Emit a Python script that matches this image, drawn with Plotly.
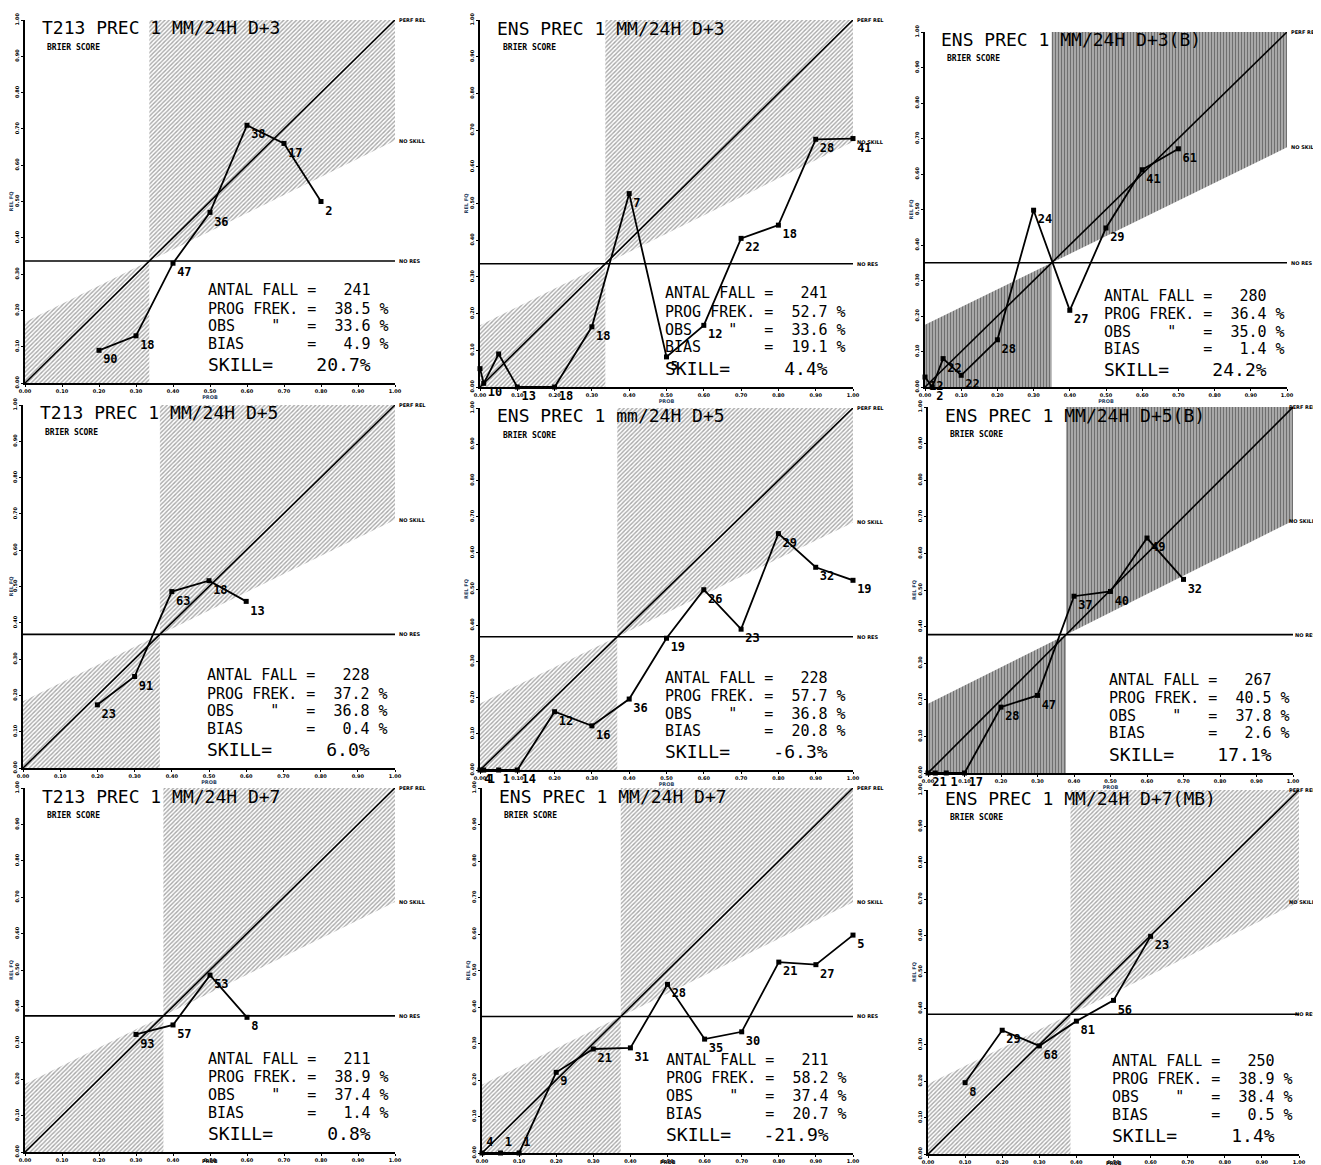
import plotly.graph_objects as go

# ---------------- data ----------------
titles = ["T213 PREC 1 MM/24H D+3", "ENS PREC 1 MM/24H D+3", "ENS PREC 1 MM/24H D+3(B)",
          "T213 PREC 1 MM/24H D+5", "ENS PREC 1 mm/24H D+5", "ENS PREC 1 MM/24H D+5(B)",
          "T213 PREC 1 MM/24H D+7", "ENS PREC 1 MM/24H D+7", "ENS PREC 1 MM/24H D+7(MB)"]

antal_fall = [241, 241, 280, 228, 228, 267, 211, 211, 250]
prog_frek = [38.5, 52.7, 36.4, 37.2, 57.7, 40.5, 38.9, 58.2, 38.9]
obs_frek = [33.6, 33.6, 35.0, 36.8, 36.8, 37.8, 37.4, 37.4, 38.4]
bias = [4.9, 19.1, 1.4, 0.4, 20.8, 2.6, 1.4, 20.7, 0.5]
skill = [20.7, 4.4, 24.2, 6.0, -6.3, 17.1, 0.8, -21.9, 1.4]

p1_prob = [0.2, 0.3, 0.4, 0.5, 0.6, 0.7, 0.8]
p1_rel = [0.09, 0.13, 0.33, 0.47, 0.71, 0.66, 0.50]
p1_n = ["90", "18", "47", "36", "38", "17", "2"]

p2_prob = [0.0, 0.01, 0.05, 0.1, 0.2, 0.3, 0.4, 0.5, 0.6, 0.7, 0.8, 0.9, 1.0]
p2_rel = [0.05, 0.01, 0.09, 0.0, 0.0, 0.164, 0.527, 0.082, 0.168, 0.405, 0.441, 0.675, 0.677]
p2_n = ["", "10", "", "13", "18", "18", "7", "5", "12", "22", "18", "28", "41"]

p3_prob = [0.0, 0.02, 0.05, 0.1, 0.2, 0.3, 0.4, 0.5, 0.6, 0.7]
p3_rel = [0.028, 0.0, 0.08, 0.033, 0.133, 0.498, 0.216, 0.448, 0.612, 0.671]
p3_n = ["12", "2", "22", "22", "28", "24", "27", "29", "41", "61"]

p4_prob = [0.2, 0.3, 0.4, 0.5, 0.6]
p4_rel = [0.174, 0.252, 0.486, 0.516, 0.459]
p4_n = ["23", "91", "63", "18", "13"]

p5_prob = [0.0, 0.01, 0.05, 0.1, 0.2, 0.3, 0.4, 0.5, 0.6, 0.7, 0.8, 0.9, 1.0]
p5_rel = [0.0, 0.0, 0.0, 0.0, 0.161, 0.122, 0.196, 0.364, 0.498, 0.389, 0.653, 0.560, 0.524]
p5_n = ["4", "1", "1", "14", "12", "16", "36", "19", "26", "23", "29", "32", "19"]

p6_prob = [0.0, 0.02, 0.05, 0.1, 0.2, 0.3, 0.4, 0.5, 0.6, 0.7]
p6_rel = [0.0, 0.0, 0.0, 0.0, 0.18, 0.212, 0.483, 0.496, 0.642, 0.529]
p6_n = ["2", "1", "1", "17", "28", "47", "37", "40", "49", "32"]

p7_prob = [0.3, 0.4, 0.5, 0.6]
p7_rel = [0.323, 0.349, 0.486, 0.37]
p7_n = ["93", "57", "53", "8"]

p8_prob = [0.0, 0.05, 0.1, 0.2, 0.3, 0.4, 0.5, 0.6, 0.7, 0.8, 0.9, 1.0]
p8_rel = [0.0, 0.0, 0.0, 0.221, 0.285, 0.288, 0.462, 0.312, 0.332, 0.523, 0.516, 0.597]
p8_n = ["4", "1", "1", "9", "21", "31", "28", "35", "30", "21", "27", "5"]

p9_prob = [0.1, 0.2, 0.3, 0.4, 0.5, 0.6]
p9_rel = [0.196, 0.34, 0.297, 0.365, 0.422, 0.598]
p9_n = ["8", "29", "68", "81", "56", "23"]

probs = [p1_prob, p2_prob, p3_prob, p4_prob, p5_prob, p6_prob, p7_prob, p8_prob, p9_prob]
rels = [p1_rel, p2_rel, p3_rel, p4_rel, p5_rel, p6_rel, p7_rel, p8_rel, p9_rel]
counts = [p1_n, p2_n, p3_n, p4_n, p5_n, p6_n, p7_n, p8_n, p9_n]

tick_vals = [0.0, 0.1, 0.2, 0.3, 0.4, 0.5, 0.6, 0.7, 0.8, 0.9, 1.0]
tick_text = ["0.00", "0.10", "0.20", "0.30", "0.40", "0.50", "0.60", "0.70", "0.80", "0.90", "1.00"]
dense_panels = [2, 5]

# ---------------- layout ----------------
W, H = 1321, 1165
OFF = 8  # page body margin of the browser
domains_px = [(25, 395, 20, 383), (480, 853, 20, 387), (925, 1287, 32, 387),
              (23, 395, 405, 768), (480, 853, 408, 770), (928, 1293, 407, 773),
              (25, 395, 788, 1152), (482, 853, 788, 1153), (928, 1299, 790, 1154)]

MONO = "DejaVu Sans Mono"
NB = "\u00a0"


def nb(s):
    return s.replace(" ", NB)


fig = go.Figure()
annotations = []
layout_axes = {}

for i in range(9):
    ax = "" if i == 0 else str(i + 1)
    xr, yr = "x" + ax, "y" + ax
    o = obs_frek[i] / 100.0
    if i in dense_panels:
        pat = dict(shape="|", size=3, solidity=0.45, fgcolor="#2a2a2a", bgcolor="#b4b4b4")
    else:
        pat = dict(shape="/", size=3, solidity=0.45, fgcolor="#505050", bgcolor="white")
    common = dict(xaxis=xr, yaxis=yr, hoverinfo="skip", showlegend=False)
    # skill regions (between no-skill line and perfect-reliability side)
    fig.add_trace(go.Scatter(x=[o, 1, 1, o, o], y=[o, (1 + o) / 2, 1, 1, o], fill="toself",
                             fillpattern=pat, fillcolor="white", mode="lines",
                             line=dict(width=0), **common))
    fig.add_trace(go.Scatter(x=[0, 0, o, o, 0], y=[0, o / 2, o, 0, 0], fill="toself",
                             fillpattern=pat, fillcolor="white", mode="lines",
                             line=dict(width=0), **common))
    # perfect reliability and no resolution lines
    fig.add_trace(go.Scatter(x=[0, 1], y=[0, 1], mode="lines",
                             line=dict(color="black", width=1.6), **common))
    fig.add_trace(go.Scatter(x=[0, 1], y=[o, o], mode="lines",
                             line=dict(color="black", width=1.6), **common))
    # reliability curve
    tpos = ["bottom right"] * len(probs[i])
    if i >= 6:
        tpos = ["top right" if v == 0 else "bottom right" for v in rels[i]]
    fig.add_trace(go.Scatter(x=probs[i], y=rels[i], mode="lines+markers+text",
                             text=counts[i], textposition=tpos,
                             textfont=dict(family=MONO, size=12, color="black", weight="bold"),
                             marker=dict(symbol="square", size=5, color="black"),
                             line=dict(color="black", width=1.8), cliponaxis=False, **common))

    x0, x1, y0, y1 = domains_px[i]
    axis_common = dict(range=[0, 1], showgrid=False, zeroline=False, showline=True,
                       linecolor="black", linewidth=1.5, ticks="outside", ticklen=2,
                       tickwidth=1, tickcolor="black", tickvals=tick_vals, ticktext=tick_text,
                       tickfont=dict(family="DejaVu Sans", size=5, color="black", weight="bold"),
                       automargin=False, fixedrange=True)
    xtitle = "PROB" if i < 6 else ""
    layout_axes["xaxis" + ax] = dict(domain=[(x0 - OFF) / W, (x1 - OFF) / W], anchor=yr,
                                     title=dict(text=xtitle, standoff=0,
                                                font=dict(family="DejaVu Sans", size=5, weight="bold")),
                                     **axis_common)
    layout_axes["yaxis" + ax] = dict(domain=[1 - (y1 - OFF) / H, 1 - (y0 - OFF) / H], anchor=xr,
                                     tickangle=-90,
                                     title=dict(text="REL FQ", standoff=0,
                                                font=dict(family="DejaVu Sans", size=5, weight="bold")),
                                     **axis_common)

    def ann(x, y, text, size, xanchor="left", bold=False, family=MONO, xshift=0, yshift=0):
        annotations.append(dict(x=x, y=y, xref=xr, yref=yr, text=text, showarrow=False,
                                xanchor=xanchor, yanchor="middle", xshift=xshift, yshift=yshift,
                                font=dict(family=family, size=size, color="black",
                                          weight="bold" if bold else "normal")))

    ann(0.04, 0.978, nb(titles[i]), 18)
    ann(0.055, 0.925, nb("BRIER SCORE"), 8, bold=True)
    room = W - x1
    if room >= 32:
        side = dict(xanchor="left", xshift=2)
    else:
        side = dict(xanchor="right", xshift=room - 3)
    for yy, lab in [(1.0, "PERF REL"), ((1 + o) / 2, "NO SKILL"), (o, "NO RES")]:
        ann(1.0, yy, nb(lab), 5, bold=True, family="DejaVu Sans", **side)
    if i >= 6:
        ann(0.5, 0.0, "PROB", 5, xanchor="center", bold=True, family="DejaVu Sans", yshift=-9)

    lines = ["ANTAL FALL =" + f"{antal_fall[i]:>6d}",
             "PROG FREK. =" + f"{prog_frek[i]:>6.1f}" + " %",
             'OBS    "   =' + f"{obs_frek[i]:>6.1f}" + " %",
             "BIAS       =" + f"{bias[i]:>6.1f}" + " %"]
    ys = [0.255, 0.205, 0.156, 0.108]
    for t, yy in zip(lines, ys):
        ann(0.49, yy, nb(t), 15)
    ann(0.49, 0.050, nb("SKILL=" + f"{skill[i]:>8.1f}" + "%"), 18)

fig.update_layout(width=W, height=H, autosize=False,
                  margin=dict(l=0, r=0, t=0, b=0),
                  paper_bgcolor="white", plot_bgcolor="white",
                  showlegend=False, annotations=annotations, **layout_axes)

fig.write_html("out.html")
